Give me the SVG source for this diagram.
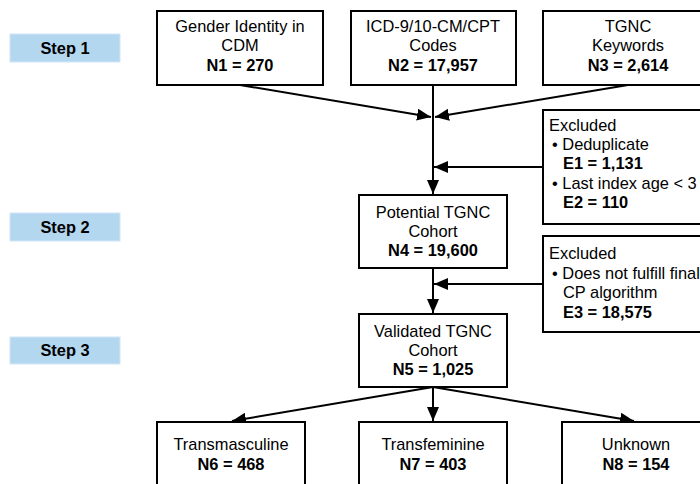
<svg xmlns="http://www.w3.org/2000/svg" width="700" height="484" viewBox="0 0 700 484">
<style>
.box{fill:#fff;stroke:#000;stroke-width:2}
.step{fill:#b4d7f0;stroke:#d2e6f6;stroke-width:1}
text{font-family:"Liberation Sans",Arial,sans-serif;font-size:16.4px;fill:#000}
.c{text-anchor:middle}
.b{font-weight:bold}
.sb{font-weight:bold;font-size:16.4px}
.ln{stroke:#000;stroke-width:2;fill:none}
</style>
<defs>
<marker id="ah" markerWidth="14" markerHeight="12" refX="14" refY="6" orient="auto" markerUnits="userSpaceOnUse">
<path d="M0,0 L14,6 L0,12 Z" fill="#000"/>
</marker>
</defs>
<g id="steps">
<g id="step1"><rect class="step" x="10" y="34" width="110" height="28"/><text class="c sb" x="65" y="54">Step 1</text></g>
<g id="step2"><rect class="step" x="10" y="213" width="110" height="28"/><text class="c sb" x="65" y="233">Step 2</text></g>
<g id="step3"><rect class="step" x="10" y="337" width="110" height="27"/><text class="c sb" x="65" y="356">Step 3</text></g>
</g>
<g id="connectors">
<line class="ln" x1="240" y1="85" x2="431" y2="117" marker-end="url(#ah)"/>
<line class="ln" x1="628" y1="85" x2="435" y2="117" marker-end="url(#ah)"/>
<line class="ln" x1="433" y1="85" x2="433" y2="194" marker-end="url(#ah)"/>
<line class="ln" x1="543" y1="167" x2="434" y2="167" marker-end="url(#ah)"/>
<line class="ln" x1="433" y1="268" x2="433" y2="313" marker-end="url(#ah)"/>
<line class="ln" x1="543" y1="284" x2="434" y2="284" marker-end="url(#ah)"/>
<line class="ln" x1="433" y1="387" x2="232" y2="421" marker-end="url(#ah)"/>
<line class="ln" x1="433" y1="387" x2="433" y2="421" marker-end="url(#ah)"/>
<line class="ln" x1="433" y1="387" x2="634" y2="421" marker-end="url(#ah)"/>
</g>
<g id="n1"><rect class="box" x="157" y="11" width="166" height="74"/>
<text class="c" x="240" y="32">Gender Identity in</text><text class="c" x="240" y="51">CDM</text><text class="c b" x="240" y="71">N1 = 270</text></g>
<g id="n2"><rect class="box" x="351" y="11" width="165" height="74"/>
<text class="c" x="433" y="32">ICD-9/10-CM/CPT</text><text class="c" x="433" y="51">Codes</text><text class="c b" x="433" y="71">N2 = 17,957</text></g>
<g id="n3"><rect class="box" x="543" y="11" width="170" height="74"/>
<text class="c" x="628" y="32">TGNC</text><text class="c" x="628" y="51">Keywords</text><text class="c b" x="628" y="71">N3 = 2,614</text></g>
<g id="e1"><rect class="box" x="543" y="110" width="170" height="114"/>
<text x="549" y="131">Excluded</text><text x="552" y="150">• Deduplicate</text><text class="b" x="563" y="169">E1 = 1,131</text><text x="552" y="189">• Last index age &lt; 3</text><text class="b" x="563" y="208">E2 = 110</text></g>
<g id="n4"><rect class="box" x="359" y="195" width="148" height="73"/>
<text class="c" x="433" y="218">Potential TGNC</text><text class="c" x="433" y="237">Cohort</text><text class="c b" x="433" y="256">N4 = 19,600</text></g>
<g id="e2"><rect class="box" x="543" y="236" width="170" height="96"/>
<text x="549" y="259">Excluded</text><text x="552" y="279">• Does not fulfill final</text><text x="563" y="298">CP algorithm</text><text class="b" x="563" y="318">E3 = 18,575</text></g>
<g id="n5"><rect class="box" x="359" y="314" width="148" height="73"/>
<text class="c" x="433" y="337">Validated TGNC</text><text class="c" x="433" y="356">Cohort</text><text class="c b" x="433" y="375">N5 = 1,025</text></g>
<g id="n6"><rect class="box" x="157" y="422" width="148" height="80"/>
<text class="c" x="231" y="450">Transmasculine</text><text class="c b" x="231" y="470">N6 = 468</text></g>
<g id="n7"><rect class="box" x="359" y="422" width="148" height="80"/>
<text class="c" x="433" y="450">Transfeminine</text><text class="c b" x="433" y="470">N7 = 403</text></g>
<g id="n8"><rect class="box" x="562" y="422" width="148" height="80"/>
<text class="c" x="636" y="450">Unknown</text><text class="c b" x="636" y="470">N8 = 154</text></g>
</svg>
